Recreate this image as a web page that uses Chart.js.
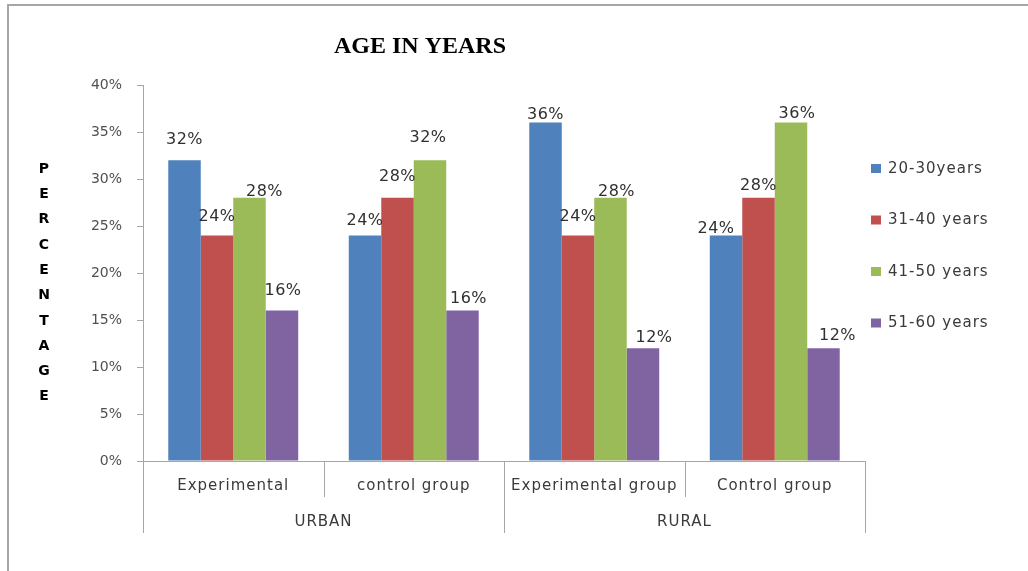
<!DOCTYPE html>
<html>
<head>
<meta charset="utf-8">
<script src="https://cdn.jsdelivr.net/npm/chart.js@4"></script>
<style>
  html, body { margin: 0; padding: 0; background: #fff; }
  #wrap { width: 1028px; height: 571px; }
</style>
</head>
<body>
<div id="wrap"><canvas id="ageChart" width="1028" height="571"></canvas></div>
<script>
const categories = ['Experimental', 'control group', 'Experimental group', 'Control group'];
const regions = ['URBAN', 'RURAL'];
const seriesNames = ['20-30years', '31-40 years', '41-50 years', '51-60 years'];
const age20to30 = [32, 24, 36, 24];
const age31to40 = [24, 28, 24, 28];
const age41to50 = [28, 32, 28, 36];
const age51to60 = [16, 16, 12, 12];
const yMax = 40;
const yStep = 5;

const colors = ['#4F81BD', '#C0504D', '#9BBB59', '#8064A2'];
// nudges for the value labels, [dx, dy] from the bar top (Excel moved some of them)
const labelNudge = [
    [[0, -20], [0, -15], [0, -8], [-10, -7]],
    [[0, -19], [0, -21], [0, -19], [0, -12]],
    [[15, -6], [-2, -22], [6, -6], [6, -9]],
    [[1, -20], [6, -12], [11, -10], [14, -12]]
];

const canvas = document.getElementById('ageChart');
const ctx = canvas.getContext('2d');
ctx.letterSpacing = '1px';

const decor = {
    id: 'decor',
    beforeDraw(chart) {
        const c = chart.ctx;
        c.save();
        c.fillStyle = '#fff';
        c.fillRect(0, 0, chart.width, chart.height);
        c.strokeStyle = '#a6a6a6';
        c.lineWidth = 2;
        c.beginPath();
        c.moveTo(8, chart.height);
        c.lineTo(8, 5);
        c.lineTo(chart.width, 5);
        c.stroke();
        c.restore();
    },
    afterDraw(chart) {
        const c = chart.ctx;
        const area = chart.chartArea;
        const x = chart.scales.x;
        c.save();

        // title
        c.fillStyle = '#000';
        c.font = 'bold 24px "Liberation Serif"';
        c.textAlign = 'center';
        c.textBaseline = 'middle';
        c.letterSpacing = '0px';
        c.fillText('AGE IN YEARS', 420, 47);

        // y title, one letter per line
        c.font = 'bold 14px "DejaVu Sans"';
        const word = 'PERCENTAGE';
        const mid = (area.top + area.bottom) / 2 + 10;
        for (let i = 0; i < word.length; i++) {
            c.fillText(word[i], 44, mid + (i - (word.length - 1) / 2) * 25.3);
        }

        // two level category axis
        c.letterSpacing = '1px';
        const half = (x.getPixelForValue(1) - x.getPixelForValue(0)) / 2;
        c.strokeStyle = '#a6a6a6';
        c.lineWidth = 1;
        for (let i = 0; i <= categories.length; i++) {
            const bx = Math.round(x.getPixelForValue(i) - half) + 0.5;
            const len = i % 2 === 0 ? 72 : 36;
            c.beginPath();
            c.moveTo(bx, area.bottom);
            c.lineTo(bx, area.bottom + len);
            c.stroke();
        }
        c.fillStyle = '#3a3a3a';
        c.font = '15px "DejaVu Sans"';
        categories.forEach((cat, i) => {
            c.fillText(cat, x.getPixelForValue(i), area.bottom + 25);
        });
        regions.forEach((r, i) => {
            const cx = (x.getPixelForValue(i * 2) + x.getPixelForValue(i * 2 + 1)) / 2;
            c.fillText(r, cx, area.bottom + 61);
        });

        // value labels
        c.font = '16px "DejaVu Sans"';
        c.letterSpacing = '0.5px';
        c.fillStyle = '#303030';
        chart.data.datasets.forEach((ds, d) => {
            chart.getDatasetMeta(d).data.forEach((bar, i) => {
                const n = labelNudge[d][i];
                c.fillText(ds.data[i] + '%', bar.x + n[0], bar.y + n[1]);
            });
        });

        // legend
        c.font = '15px "DejaVu Sans"';
        c.letterSpacing = '1px';
        c.textAlign = 'left';
        chart.data.datasets.forEach((ds, d) => {
            const ly = 169 + d * 51.5;
            c.fillStyle = ds.backgroundColor;
            c.fillRect(area.right + 6, ly - 5, 10, 9);
            c.fillStyle = '#3a3a3a';
            c.fillText(ds.label, area.right + 23, ly);
        });
        c.restore();
    }
};

const ageChart = new Chart(ctx, {
    type: 'bar',
    data: {
        labels: categories,
        datasets: [
            { label: seriesNames[0], data: age20to30, backgroundColor: colors[0] },
            { label: seriesNames[1], data: age31to40, backgroundColor: colors[1] },
            { label: seriesNames[2], data: age41to50, backgroundColor: colors[2] },
            { label: seriesNames[3], data: age51to60, backgroundColor: colors[3] }
        ]
    },
    options: {
        responsive: false,
        animation: false,
        events: [],
        categoryPercentage: 0.72,
        barPercentage: 1,
        layout: { padding: { top: 85, right: 163, bottom: 0, left: 0 } },
        plugins: {
            legend: { display: false },
            tooltip: { enabled: false }
        },
        scales: {
            x: {
                grid: { display: false },
                border: { color: '#a6a6a6' },
                ticks: { display: false },
                afterFit: s => { s.height = 110; }
            },
            y: {
                min: 0,
                max: yMax,
                ticks: {
                    stepSize: yStep,
                    padding: 15,
                    color: '#505050',
                    font: { family: 'DejaVu Sans', size: 14 },
                    callback: v => v + '%'
                },
                grid: { drawOnChartArea: false, tickLength: 6, color: '#a6a6a6' },
                border: { color: '#a6a6a6' },
                afterFit: s => { s.width = 143; }
            }
        }
    },
    plugins: [decor]
});
</script>
</body>
</html>
